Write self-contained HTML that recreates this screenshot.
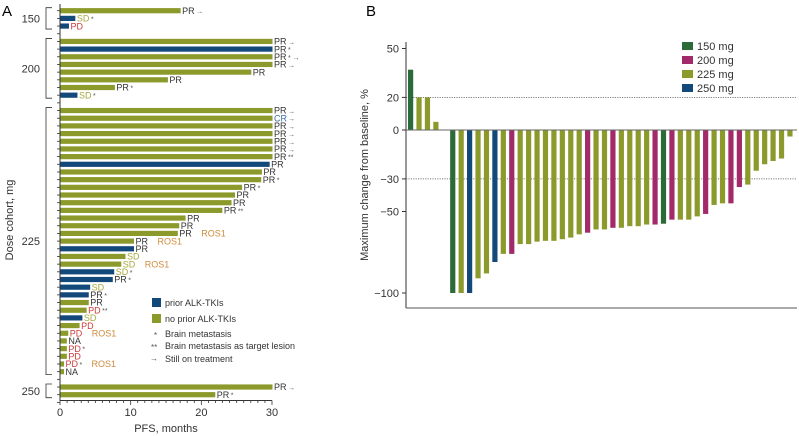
<!DOCTYPE html>
<html><head><meta charset="utf-8">
<style>
html,body{margin:0;padding:0;background:#fff;}
svg{display:block;font-family:"Liberation Sans",Arial,sans-serif;}
</style></head>
<body>
<svg id="c" width="799" height="436" viewBox="0 0 799 436">
<text x="2" y="16" font-size="15">A</text>
<text x="366" y="16" font-size="15">B</text>
<g id="pa"></g>
<g id="pb"></g>
</svg>
<script>
// ---- Panel A data ----
const aRows = [0,1,2,4,5,6,7,8,9,10,11,13,14,15,16,17,18,19,20,21,22,23,24,25,26,27,28,29,30,31,32,33,34,35,36,37,38,39,40,41,42,43,44,45,46,47,49,50];
const aPfs = [17.0,2.1,1.2,30,30,30,30,27,15.2,7.7,2.4,30,30,30,30,30,30,30,29.6,28.5,28.4,25.7,24.7,24.2,22.9,17.7,16.8,16.6,10.4,10.4,9.2,8.6,7.6,7.4,4.2,4.0,4.0,3.7,3.1,2.7,1.1,0.9,0.9,0.9,0.5,0.5,30,21.9];
const aPrior = [0,1,1,0,1,0,0,0,0,0,1,0,0,0,0,0,0,0,1,0,0,0,0,0,0,0,0,0,0,1,0,0,1,1,1,1,0,0,1,0,0,0,0,0,0,0,0,0];
const aResp = ["PR","SD","PD","PR","PR","PR","PR","PR","PR","PR","SD","PR","CR","PR","PR","PR","PR","PR","PR","PR","PR","PR","PR","PR","PR","PR","PR","PR","PR","PR","SD","SD","SD","PR","SD","PR","PR","PD","SD","PD","PD","NA","PD","PD","PD","NA","PR","PR"];
const aMark = ["→","*","","→","*","* →","→","","","*","*","→","→","→","→","→","→","**","","","*","*","","","**","","","","","","","","*","*","","*","","**","","","","","*","","*","","→","*"];
const aRos = [0,0,0,0,0,0,0,0,0,0,0,0,0,0,0,0,0,0,0,0,0,0,0,0,0,0,0,1,1,0,0,1,0,0,0,0,0,0,0,0,1,0,0,0,1,0,0,0];
const aXTicks = [0,10,20,30];
const aCohorts = ["150","200","225","250"];
const aCohortSpan = [[0,2],[4,11],[13,47],[49,50]];

// ---- Panel B data ----
const bDose = ["150","225","225","225",null,"150","225","250","225","225","250","225","200","225","225","225","225","225","225","225","225","200","225","225","200","225","225","225","225","200","150","200","225","225","225","200","225","225","200","200","225","225","225","225","225","225"];
const bVal = [37,20,20,5,null,-100,-100,-100,-91,-88,-81,-76,-76,-70,-70,-68.5,-68,-68,-67,-66,-64,-63,-61,-61,-60,-60,-59,-59,-58,-58,-57.5,-55,-55,-55,-53,-51.5,-46,-45,-45,-35,-33.5,-25,-21,-19,-17.5,-4];
const bTicks = [50,20,0,-30,-50,-100];
const bLegend = ["150 mg","200 mg","225 mg","250 mg"];

const NS="http://www.w3.org/2000/svg";
function mk(tag,attrs,parent,txt){const e=document.createElementNS(NS,tag);for(const k in attrs)e.setAttribute(k,attrs[k]);if(txt!=null)e.textContent=txt;parent.appendChild(e);return e;}
const OL="#8c9a2c", BL="#13497a", GR="#2c6a3a", MG="#a32a68";
const respColor={PR:"#333",SD:"#a6a83e",PD:"#cc3b3b",CR:"#3a6fa0",NA:"#333"};

// Panel A axes
const pa=document.getElementById('pa');
const ax0=60, axScale=(272-60)/30;
const xA=v=>ax0+v*axScale;
const yA=r=>10.7+r*7.68;
let e;
e=mk('line',{x1:ax0,y1:4,x2:ax0,y2:400.5,stroke:'#333','stroke-width':1},pa);

e=mk('line',{x1:ax0,y1:400.5,x2:272,y2:400.5,stroke:'#333','stroke-width':1},pa);

for(let r=0;r<=51;r++){mk('line',{x1:ax0-3,y1:yA(r),x2:ax0,y2:yA(r),stroke:'#333','stroke-width':0.8},pa);}
for(let m=0;m<=30;m++){mk('line',{x1:xA(m),y1:400.5,x2:xA(m),y2:m%10?403:405,stroke:'#333','stroke-width':0.8},pa);}
aXTicks.forEach(t=>{e=mk('text',{x:xA(t),y:416,'font-size':11,'text-anchor':'middle',fill:'#333'},pa,t);
});
e=mk('text',{x:166,y:432,'font-size':11,'text-anchor':'middle',fill:'#333'},pa,'PFS, months');

e=mk('text',{x:0,y:0,'font-size':11,'text-anchor':'middle',fill:'#333',transform:'translate(13,220) rotate(-90)'},pa,'Dose cohort, mg');

aCohorts.forEach((c,i)=>{const [s,t]=aCohortSpan[i];const y1=yA(s)-3,y2=yA(t)+3;
mk('path',{d:`M52 ${y1} H46 V${y2} H52`,fill:'none',stroke:'#333','stroke-width':0.8},pa);
e=mk('text',{x:40,y:(y1+y2)/2+4,'font-size':11,'text-anchor':'end',fill:'#333'},pa,c);
});
aRows.forEach((r,i)=>{const y=yA(r);
e=mk('rect',{x:ax0+0.5,y:y-2.6,width:xA(aPfs[i])-ax0,height:5.2,fill:aPrior[i]?BL:OL},pa);

let tx=xA(aPfs[i])+2;
e=mk('text',{x:tx,y:y+3.2,'font-size':9,fill:respColor[aResp[i]]},pa,aResp[i]);

let nx=tx+14;
if(aMark[i]){e=mk('text',{x:nx,y:y+3,'font-size':7,fill:'#555'},pa,aMark[i]);
}
if(aRos[i]){e=mk('text',{x:tx+(aMark[i]?26:22),y:y+3.2,'font-size':9,fill:'#d08b3c'},pa,'ROS1');
}
});
// Panel A legend
const lg=mk('g',{},pa);
mk('rect',{x:152,y:298,width:9,height:9,fill:BL},lg);
mk('text',{x:165,y:306,'font-size':9,fill:'#333'},lg,'prior ALK-TKIs');
mk('rect',{x:152,y:314,width:9,height:9,fill:OL},lg);
mk('text',{x:165,y:322,'font-size':9,fill:'#333'},lg,'no prior ALK-TKIs');
mk('text',{x:154,y:338,'font-size':8,fill:'#555'},lg,'*');
mk('text',{x:165,y:337,'font-size':9,fill:'#333'},lg,'Brain metastasis');
mk('text',{x:151,y:350,'font-size':8,fill:'#555'},lg,'**');
mk('text',{x:165,y:349,'font-size':9,fill:'#333'},lg,'Brain metastasis as target lesion');
mk('text',{x:150,y:361,'font-size':8,fill:'#555'},lg,'→');
mk('text',{x:165,y:362,'font-size':9,fill:'#333'},lg,'Still on treatment');

// Panel B
const pb=document.getElementById('pb');
const bx0=406, y0=130, ys=1.63, slot=8.43, bw=5.2;
const yB=v=>y0-v*ys;
const xB=i=>408+i*slot;
const doseColor={"150":GR,"200":MG,"225":OL,"250":BL};
e=mk('line',{x1:bx0,y1:42,x2:bx0,y2:308,stroke:'#333','stroke-width':1},pb);

e=mk('line',{x1:bx0,y1:308,x2:797,y2:308,stroke:'#555','stroke-width':1},pb);

[20,-30].forEach(v=>{e=mk('line',{x1:bx0,y1:yB(v),x2:797,y2:yB(v),stroke:'#555','stroke-width':0.8,'stroke-dasharray':'1.2,1.2'},pb);
});
bTicks.forEach(t=>{mk('line',{x1:bx0-4,y1:yB(t),x2:bx0,y2:yB(t),stroke:'#333'},pb);
e=mk('text',{x:bx0-7,y:yB(t)+4,'font-size':11,'text-anchor':'end',fill:'#333'},pb,t<0?'\u2212'+(-t):t);
});
e=mk('text',{x:0,y:0,'font-size':11,'text-anchor':'middle',fill:'#333',transform:'translate(368,175) rotate(-90)'},pb,'Maximum change from baseline, %');

bVal.forEach((v,i)=>{if(v==null)return;
const y1=Math.min(yB(v),y0),h=Math.abs(yB(v)-y0);
e=mk('rect',{x:xB(i),y:y1,width:bw,height:h,fill:doseColor[bDose[i]]},pb);
});
e=mk('line',{x1:bx0,y1:y0,x2:797,y2:y0,stroke:'#666','stroke-width':1},pb);

const lb=mk('g',{},pb);
bLegend.forEach((t,i)=>{const y=42+i*14;
mk('rect',{x:682,y:y,width:11,height:8,fill:[GR,MG,OL,BL][i]},lb);
mk('text',{x:697,y:y+8,'font-size':11,fill:'#333'},lb,t);});
</script>
</body></html>
